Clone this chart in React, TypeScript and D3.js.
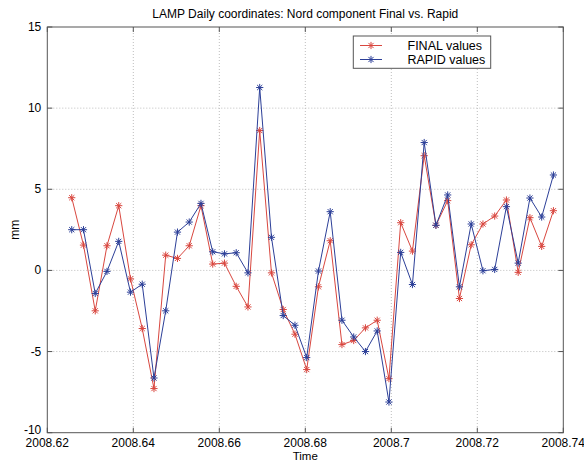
import React from "react";
import * as d3 from "d3";

// Day of year 2008 for each daily solution
const days = [
  229, 230, 231, 232, 233, 234, 235, 236, 237, 238, 239, 240, 241, 242,
  243, 244, 245, 246, 247, 248, 249, 250, 251, 252, 253, 254, 255, 256,
  257, 258, 259, 260, 261, 262, 263, 264, 265, 266, 267, 268, 269, 270,
];

// North component (mm), final products
const finalValues = [
  4.48, 1.56, -2.49, 1.52, 3.99, -0.52, -3.58, -7.28, 0.94, 0.74, 1.52, 3.99,
  0.39, 0.45, -0.98, -2.25, 8.62, -0.15, -2.41, -3.93, -6.11, -1.01, 1.83,
  -4.57, -4.32, -3.54, -3.07, -6.67, 2.94, 1.19, 7.07, 2.78, 4.3, -1.73, 1.58,
  2.86, 3.35, 4.34, -0.12, 3.25, 1.48, 3.68,
];

// North component (mm), rapid products
const rapidValues = [
  2.51, 2.51, -1.42, -0.06, 1.79, -1.34, -0.85, -6.63, -2.49, 2.36, 2.98, 4.13,
  1.15, 1.02, 1.09, -0.15, 11.27, 2.04, -2.78, -3.38, -5.37, -0.04, 3.62,
  -3.07, -4.1, -5.0, -3.73, -8.11, 1.11, -0.87, 7.88, 2.78, 4.65, -1.01, 2.86,
  -0.02, 0.06, 3.93, 0.45, 4.46, 3.29, 5.88,
];

const xTicks = [2008.62, 2008.64, 2008.66, 2008.68, 2008.7, 2008.72, 2008.74];
const yTicks = [-10, -5, 0, 5, 10, 15];

const seriesNames = ["FINAL values", "RAPID values"];
const seriesColors = ["#d9473f", "#2c3f98"];

const W = 584;
const H = 462;
const box = { left: 47.3, right: 563.3, top: 27, bottom: 432.7 };
const FONT = "'Liberation Sans', Arial, sans-serif";

function Star({ x, y, color }: { x: number; y: number; color: string }) {
  const r = 3.6;
  const d = r * 0.72;
  return (
    <g stroke={color} strokeWidth={1}>
      <line x1={x - r} y1={y} x2={x + r} y2={y} />
      <line x1={x} y1={y - r} x2={x} y2={y + r} />
      <line x1={x - d} y1={y - d} x2={x + d} y2={y + d} />
      <line x1={x - d} y1={y + d} x2={x + d} y2={y - d} />
    </g>
  );
}

export default function App() {
  const x = d3
    .scaleLinear()
    .domain([2008.62, 2008.74])
    .range([box.left, box.right]);
  const y = d3.scaleLinear().domain([-10, 15]).range([box.bottom, box.top]);

  const times = days.map((d) => 2008 + d / 366);
  const line = d3
    .line<number>()
    .x((_, i) => x(times[i]))
    .y((v) => y(v));

  const series = [finalValues, rapidValues];
  const tickLen = 5;
  const axisColor = "#555";
  const gridColor = "#bdbdbd";

  return (
    <svg
      width={W}
      height={H}
      style={{ position: "absolute", left: 0, top: 0, background: "#fff" }}
      fontFamily={FONT}
    >
      <rect x={0} y={0} width={W} height={H} fill="#fff" />

      {/* grid */}
      <g stroke={gridColor} strokeWidth={1} strokeDasharray="1 2">
        {xTicks.slice(1, -1).map((t) => (
          <line key={"gx" + t} x1={x(t)} x2={x(t)} y1={box.top} y2={box.bottom} />
        ))}
        {yTicks.slice(1, -1).map((t) => (
          <line key={"gy" + t} x1={box.left} x2={box.right} y1={y(t)} y2={y(t)} />
        ))}
      </g>

      {/* data */}
      {series.map((vals, si) => (
        <g key={"s" + si}>
          <path d={line(vals) ?? ""} fill="none" stroke={seriesColors[si]} strokeWidth={1} />
          {vals.map((v, i) => (
            <Star key={i} x={x(times[i])} y={y(v)} color={seriesColors[si]} />
          ))}
        </g>
      ))}

      {/* axes box and ticks */}
      <rect
        x={box.left}
        y={box.top}
        width={box.right - box.left}
        height={box.bottom - box.top}
        fill="none"
        stroke={axisColor}
        strokeWidth={1}
      />
      <g stroke={axisColor} strokeWidth={1}>
        {xTicks.map((t) => (
          <g key={"tx" + t}>
            <line x1={x(t)} x2={x(t)} y1={box.bottom} y2={box.bottom - tickLen} />
            <line x1={x(t)} x2={x(t)} y1={box.top} y2={box.top + tickLen} />
          </g>
        ))}
        {yTicks.map((t) => (
          <g key={"ty" + t}>
            <line x1={box.left} x2={box.left + tickLen} y1={y(t)} y2={y(t)} />
            <line x1={box.right} x2={box.right - tickLen} y1={y(t)} y2={y(t)} />
          </g>
        ))}
      </g>

      {/* tick labels */}
      <g fontSize={12} fill="#000">
        {xTicks.map((t) => (
          <text key={"lx" + t} x={x(t)} y={box.bottom + 14.3} textAnchor="middle">
            {String(+t.toFixed(2))}
          </text>
        ))}
        {yTicks.map((t) => (
          <text
            key={"ly" + t}
            x={box.left - 6}
            y={y(t) - (t === -10 ? 3 : 0)}
            textAnchor="end"
            dominantBaseline="central"
          >
            {t}
          </text>
        ))}
      </g>

      {/* labels */}
      <text x={(box.left + box.right) / 2} y={box.bottom + 27.3} fontSize={11.5} textAnchor="middle">
        Time
      </text>
      <text
        transform={`translate(19, ${(box.top + box.bottom) / 2}) rotate(-90)`}
        fontSize={12}
        textAnchor="middle"
      >
        mm
      </text>
      <text x={(box.left + box.right) / 2} y={18} fontSize={12} textAnchor="middle">
        LAMP Daily coordinates: Nord component Final vs. Rapid
      </text>

      {/* legend */}
      <g>
        <rect x={353.3} y={36} width={137.4} height={32.3} fill="#fff" stroke={axisColor} strokeWidth={1} />
        {seriesNames.map((name, i) => {
          const cy = 45.5 + i * 14;
          return (
            <g key={name}>
              <line x1={360} x2={382} y1={cy} y2={cy} stroke={seriesColors[i]} strokeWidth={1} />
              <Star x={371} y={cy} color={seriesColors[i]} />
              <text x={407.5} y={cy} fontSize={12.5} dominantBaseline="central">
                {name}
              </text>
            </g>
          );
        })}
      </g>
    </svg>
  );
}
